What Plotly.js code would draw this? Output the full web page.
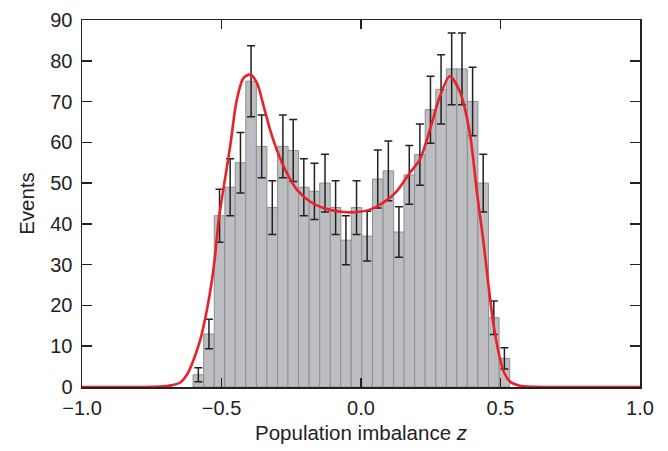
<!DOCTYPE html>
<html>
<head>
<meta charset="utf-8">
<script src="https://cdn.plot.ly/plotly-3.0.1.min.js"></script>
<style>
  html, body { margin: 0; padding: 0; background: #fff; }
  #chart { width: 668px; height: 451px; }
</style>
</head>
<body>
<div id="chart"></div>
<script>
// Histogram bin centres (population imbalance z)
const binCenters = [-0.583, -0.545, -0.507, -0.469, -0.432, -0.394, -0.356, -0.318, -0.280, -0.243,
                    -0.205, -0.167, -0.129, -0.091, -0.054, -0.016, 0.022, 0.060, 0.098, 0.136,
                    0.173, 0.211, 0.249, 0.287, 0.325, 0.362, 0.400, 0.438, 0.476, 0.514];
// Events per bin
const events = [3, 13, 42, 49, 55, 75, 59, 44, 59, 58,
                49, 48, 50, 44, 36, 44, 37, 51, 53, 38,
                52, 57, 68, 73, 78, 78, 70, 50, 17, 7];
// Error bar half-lengths
const eventErrors = [1.7, 3.6, 6.5, 7.0, 7.4, 8.7, 7.7, 6.6, 7.7, 7.6,
                     7.0, 6.9, 7.1, 6.6, 6.0, 6.6, 6.1, 7.1, 7.3, 6.2,
                     7.2, 7.5, 8.2, 8.5, 8.8, 8.8, 8.4, 7.1, 4.1, 2.6];
// Fitted curve (red)
const fitZ = [-1.0, -0.8, -0.72, -0.68, -0.648, -0.624, -0.600, -0.576, -0.552, -0.534,
              -0.522, -0.511, -0.498, -0.469, -0.445, -0.421, -0.397, -0.373, -0.349, -0.326,
              -0.302, -0.266, -0.230, -0.183, -0.135, -0.063, -0.015, 0.032, 0.080, 0.128,
              0.175, 0.211, 0.247, 0.283, 0.318, 0.354, 0.390, 0.416, 0.438, 0.456,
              0.474, 0.491, 0.509, 0.533, 0.569, 0.62, 0.7, 1.0];
const fitEvents = [0, 0, 0.1, 0.4, 1.1, 3.0, 6.7, 11.6, 19.0, 26.3,
                   32.8, 40.5, 46.5, 59.0, 70.5, 75.8, 76.6, 74.6, 68.9, 63.1,
                   58.2, 52.5, 48.4, 45.5, 43.9, 42.9, 42.9, 43.5, 45.2, 48.0,
                   52.5, 55.8, 63.1, 71.3, 76.2, 72.5, 62.3, 47.5, 36.1, 25.5,
                   15.7, 9.2, 4.2, 1.4, 0.3, 0.05, 0, 0];
const xTickVals = [-1.0, -0.5, 0.0, 0.5, 1.0];
const xTickText = ['\u22121.0', '\u22120.5', '0.0', '0.5', '1.0'];
const yTickVals = [0, 10, 20, 30, 40, 50, 60, 70, 80, 90];

const fontFam = '"Liberation Sans", Arial, Helvetica, sans-serif';
const ink = '#222222';

const traces = [
  {
    type: 'bar',
    x: binCenters,
    y: events,
    width: 0.0378,
    marker: { color: '#bdbec2', line: { color: '#8e8f93', width: 1 } },
    error_y: { type: 'data', array: eventErrors, visible: true, color: ink, thickness: 1.5, width: 4 },
    showlegend: false
  },
  {
    type: 'scatter',
    mode: 'lines',
    x: fitZ,
    y: fitEvents,
    line: { color: '#e8212b', width: 2.6, shape: 'spline', smoothing: 0.8 },
    showlegend: false
  }
];

const layout = {
  width: 668,
  height: 451,
  margin: { l: 82, r: 28, t: 20, b: 64 },
  paper_bgcolor: '#ffffff',
  plot_bgcolor: '#ffffff',
  bargap: 0,
  font: { family: fontFam, size: 20, color: ink },
  xaxis: {
    range: [-1, 1],
    tickvals: xTickVals,
    ticktext: xTickText,
    ticks: 'inside',
    ticklen: 9,
    tickwidth: 1.5,
    tickcolor: ink,
    showline: true,
    linecolor: ink,
    linewidth: 1.5,
    mirror: 'ticks',
    showgrid: false,
    zeroline: false,
    ticklabelstandoff: 2,
    tickfont: { family: fontFam, size: 20, color: ink },
    title: { text: 'Population imbalance <i>z</i>', font: { family: fontFam, size: 20.5, color: ink }, standoff: 8 }
  },
  yaxis: {
    range: [0, 90],
    tickvals: yTickVals,
    ticks: 'inside',
    ticklen: 10,
    tickwidth: 1.5,
    tickcolor: ink,
    showline: true,
    linecolor: ink,
    linewidth: 1.5,
    mirror: 'ticks',
    showgrid: false,
    zeroline: false,
    ticklabelstandoff: 4,
    tickfont: { family: fontFam, size: 20, color: ink },
    title: { text: 'Events', font: { family: fontFam, size: 20.5, color: ink }, standoff: 10 }
  }
};

Plotly.newPlot('chart', traces, layout, { displayModeBar: false, staticPlot: true });
</script>
</body>
</html>
